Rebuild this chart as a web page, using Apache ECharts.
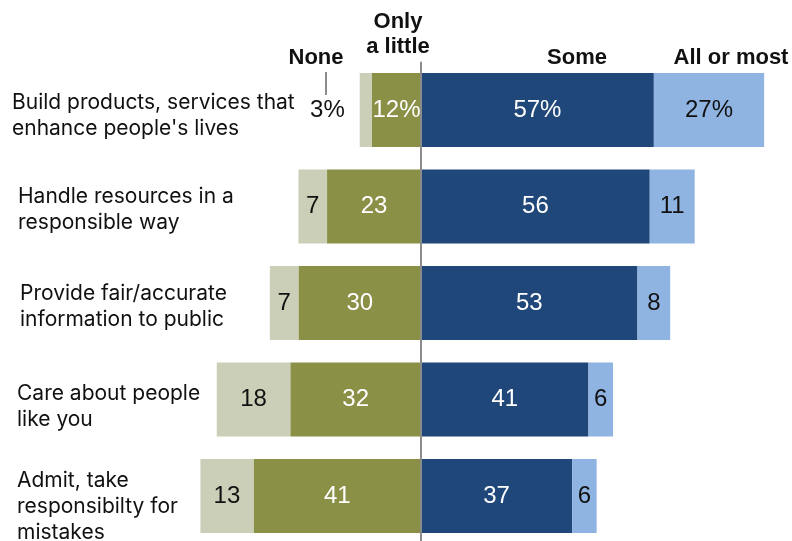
<!DOCTYPE html>
<html>
<head>
<meta charset="utf-8">
<script src="https://cdn.jsdelivr.net/npm/echarts@6/dist/echarts.min.js"></script>
<style>
  html, body { margin: 0; padding: 0; background: #fff; }
  #chart { width: 792px; height: 541px; }
</style>
</head>
<body>
<div id="chart"></div>
<script>
// Share of respondents, by statement
const categories = [
  "Build products, services that\nenhance people's lives",
  "Handle resources in a\nresponsible way",
  "Provide fair/accurate\ninformation to public",
  "Care about people\nlike you",
  "Admit, take\nresponsibilty for\nmistakes"
];
const noneValues = [3, 7, 7, 18, 13];
const littleValues = [12, 23, 30, 32, 41];
const someValues = [57, 56, 53, 41, 37];
const mostValues = [27, 11, 8, 6, 6];
const seriesNames = ["None", "Only a little", "Some", "All or most"];

const FONT = "'Liberation Sans', Arial, sans-serif";
const LABEL_FONT = "Inter, 'Liberation Sans', sans-serif";
const colors = {
  none: "#cbcfb8",
  little: "#8a9046",
  some: "#20477a",
  most: "#8fb4e1"
};

// row label placement: left edge and vertical nudge from the bar centre
const labelX = [12, 18, 20, 17, 17];
const labelDy = [5.5, 3, 3.5, 7, 11];

function fmt(p) {
  const v = Math.abs(p.value);
  return p.dataIndex === 0 ? v + "%" : String(v);
}

function barLabel(color) {
  return {
    show: true,
    position: "inside",
    formatter: fmt,
    color: color,
    fontFamily: FONT,
    fontSize: 24
  };
}

const noneData = noneValues.map((v, i) => {
  const d = { value: -v };
  if (i === 0) {
    d.label = { position: "left", distance: 15 };
  }
  return d;
});

const headerStyle = {
  font: "bold 22px " + FONT,
  fill: "#111",
  align: "center",
  verticalAlign: "middle"
};

const chart = echarts.init(document.getElementById("chart"));
chart.setOption({
  animation: false,
  grid: {
    left: 175.9, right: 3.35, top: 61.75, bottom: -3.25,
    containLabel: false,
    outerBoundsMode: "none"
  },
  xAxis: {
    type: "value",
    min: -60,
    max: 90,
    show: false
  },
  yAxis: {
    type: "category",
    inverse: true,
    data: categories,
    axisLine: { show: false },
    axisTick: { show: false },
    splitLine: { show: false },
    axisLabel: { show: false }
  },
  series: [
    {
      name: seriesNames[1],
      type: "bar",
      stack: "all",
      barWidth: 74,
      data: littleValues.map(v => -v),
      itemStyle: { color: colors.little },
      label: barLabel("#fff"),
      z: 2
    },
    {
      name: seriesNames[0],
      type: "bar",
      stack: "all",
      barWidth: 74,
      data: noneData,
      itemStyle: { color: colors.none },
      label: barLabel("#111"),
      z: 2
    },
    {
      name: seriesNames[2],
      type: "bar",
      stack: "all",
      barWidth: 74,
      data: someValues,
      itemStyle: { color: colors.some },
      label: barLabel("#fff"),
      z: 2
    },
    {
      name: seriesNames[3],
      type: "bar",
      stack: "all",
      barWidth: 74,
      data: mostValues,
      itemStyle: { color: colors.most },
      label: barLabel("#111"),
      z: 2,
      markLine: {
        silent: true,
        symbol: "none",
        z: 5,
        label: { show: false },
        lineStyle: { color: "#8c8c8c", width: 2, type: "solid" },
        data: [{ xAxis: 0 }]
      }
    }
  ]
});

// Row labels sit beside each bar, placed from the category axis positions
const rowLabels = categories.map((c, i) => {
  const y = chart.convertToPixel({ yAxisIndex: 0 }, i);
  return {
    type: "text",
    x: labelX[i],
    y: y + labelDy[i],
    style: {
      text: c,
      font: "21px " + LABEL_FONT,
      fill: "#111",
      align: "left",
      verticalAlign: "middle",
      lineHeight: 26
    }
  };
});

chart.setOption({
  graphic: rowLabels.concat([
    {
      type: "text", x: 316, y: 58,
      style: Object.assign({ text: seriesNames[0] }, headerStyle)
    },
    {
      type: "line",
      shape: { x1: 326, y1: 72, x2: 326, y2: 95 },
      style: { stroke: "#8c8c8c", lineWidth: 2 }
    },
    {
      type: "text", x: 398, y: 34.5,
      style: Object.assign({ text: "Only\na little", lineHeight: 25 }, headerStyle)
    },
    {
      type: "text", x: 577, y: 58,
      style: Object.assign({ text: seriesNames[2] }, headerStyle)
    },
    {
      type: "text", x: 731, y: 58,
      style: Object.assign({ text: seriesNames[3] }, headerStyle)
    }
  ])
});
</script>
</body>
</html>
